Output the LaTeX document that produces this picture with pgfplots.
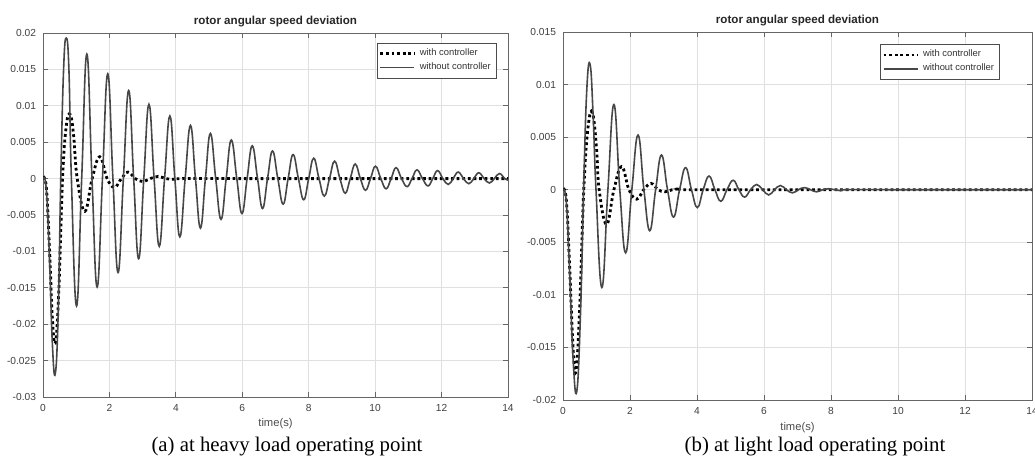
\documentclass[border=0pt]{standalone}
\usepackage{fontspec}
\setmainfont{Liberation Sans}
\newfontfamily\capfont{Liberation Serif}
\usepackage{pgfplots}
\pgfplotsset{compat=1.18}

\pgfplotsset{
  rotor/.style={
    scale only axis,
    anchor=south west,
    xmin=0, xmax=14, xtick={0,2,4,6,8,10,12,14},
    grid=major,
    major grid style={black!12, line width=0.5pt},
    axis line style={black!60, line width=0.5pt},
    tick style={black!60, line width=0.4pt},
    major tick length=2.5pt,
    tick align=inside,
    scaled y ticks=false,
    tick label style={font=\fontsize{5.1}{6}\selectfont, text=black!75},
    /pgf/number format/assume math mode=true,
    yticklabel style={/pgf/number format/fixed, /pgf/number format/precision=3},
    title={rotor angular speed deviation},
    every axis title shift=0pt,
    title style={font=\fontsize{5.8}{7}\selectfont\bfseries, text=black!85,
      at={(0.5,1)}, anchor=center, yshift=5.6pt},
    xlabel={time(s)},
    xlabel style={font=\fontsize{5.6}{7}\selectfont, text=black!70,
      at={(axis description cs:0.5,0)}, anchor=center},
    legend cell align=left,
    legend style={font=\fontsize{4.7}{5.6}\selectfont, draw=black!70, line width=0.4pt,
      inner sep=0.8pt, row sep=-2pt, text=black!80},
    legend image code/.code={\draw[#1] (0pt,0pt) -- (17pt,0pt);},
  },
  withc/.style={black, line width=1.4pt, dash pattern=on 1.4pt off 1.4pt, smooth, tension=0.7},
  withoutc/.style={black!72, line width=0.8pt, smooth, tension=0.75},
}

\begin{document}
\begin{tikzpicture}
\useasboundingbox (0,0) rectangle (517.5pt,228.5pt);

% (a) heavy load
\begin{axis}[rotor, at={(21.5pt,30pt)}, width=232.5pt, height=182pt,
  ymin=-0.03, ymax=0.02,
  ytick={-0.03,-0.025,-0.02,-0.015,-0.01,-0.005,0,0.005,0.01,0.015,0.02},
  xlabel style={yshift=-13.5pt},
  legend style={at={(0.976,0.973)}, anchor=north east}]
\addplot[withc] coordinates {
(0,0) (0.1,-0.0012) (0.2,-0.010) (0.28,-0.019) (0.37,-0.0226) (0.47,-0.016)
(0.59,0) (0.70,0.0072) (0.82,0.0088) (0.92,0.0060) (1.03,0) (1.26,-0.0045)
(1.48,0) (1.71,0.0030) (1.93,0) (2.15,-0.0012) (2.36,0) (2.56,0.0009)
(2.78,0) (3.00,-0.0004) (3.23,0) (3.47,0.0003) (3.70,0) (3.95,-0.0001)
(4.2,0) (6,0) (8,0) (10,0) (12,0) (14,0)
};
\addlegendentry{with controller}
\addplot[withoutc] coordinates {
(0,0) (0.1,-0.0015) (0.2,-0.0115) (0.28,-0.0225) (0.37,-0.0268) (0.46,-0.018)
(0.535,0) (0.62,0.0150) (0.70,0.0193) (0.78,0.0150) (0.855,0) (1.01,-0.0175)
(1.165,0) (1.32,0.0171) (1.475,0) (1.63,-0.0149) (1.79,0) (1.95,0.0144)
(2.105,0) (2.26,-0.0129) (2.42,0) (2.58,0.0121) (2.73,0) (2.88,-0.0110)
(3.035,0) (3.19,0.0102) (3.345,0) (3.50,-0.0093) (3.66,0) (3.82,0.0086)
(3.97,0) (4.12,-0.0080) (4.28,0) (4.44,0.0073) (4.59,0) (4.74,-0.0068)
(4.89,0) (5.04,0.0062) (5.20,0) (5.36,-0.0056) (5.515,0) (5.67,0.0053)
(5.835,0) (5.99,-0.0048) (6.145,0) (6.30,0.0045) (6.46,0) (6.61,-0.0041)
(6.76,0) (6.91,0.0038) (7.07,0) (7.23,-0.0035) (7.38,0) (7.53,0.0033)
(7.69,0) (7.85,-0.0029) (8.00,0) (8.15,0.0028) (8.31,0) (8.47,-0.0024)
(8.625,0) (8.78,0.0024) (8.94,0) (9.10,-0.0020) (9.25,0) (9.40,0.0020)
(9.555,0) (9.71,-0.0016) (9.86,0) (10.01,0.0017) (10.17,0) (10.33,-0.0014)
(10.48,0) (10.63,0.0015) (10.795,0) (10.96,-0.0011) (11.11,0) (11.26,0.0012)
(11.425,0) (11.59,-0.0010) (11.735,0) (11.88,0.0011) (12.04,0) (12.20,-0.0008)
(12.35,0) (12.50,0.0009) (12.66,0) (12.82,-0.0007) (12.97,0) (13.12,0.0008)
(13.28,0) (13.44,-0.0006) (13.59,0) (13.74,0.0007) (13.90,0) (14.0,-0.0002)
};
\addlegendentry{without controller}
\end{axis}

% (b) light load
\begin{axis}[rotor, at={(281.5pt,28.5pt)}, width=234.5pt, height=184pt,
  ymin=-0.02, ymax=0.015,
  ytick={-0.02,-0.015,-0.01,-0.005,0,0.005,0.01,0.015},
  xlabel style={yshift=-14pt},
  legend style={at={(0.932,0.967)}, anchor=north east}]
\addplot[withc] coordinates {
(0,0) (0.1,-0.0010) (0.2,-0.0075) (0.3,-0.0150) (0.39,-0.0172) (0.50,-0.011)
(0.62,0) (0.75,0.0060) (0.88,0.0073) (1.0,0.0040) (1.08,0) (1.30,-0.0033)
(1.52,0) (1.75,0.0022) (1.97,0) (2.20,-0.0009) (2.41,0) (2.63,0.0006)
(2.84,0) (3.04,-0.0002) (3.26,0) (3.48,0.0001) (3.7,0) (6,0) (8,0) (10,0) (12,0) (14,0)
};
\addlegendentry{with controller}
\addplot[withoutc] coordinates {
(0,0) (0.1,-0.0012) (0.2,-0.008) (0.3,-0.0160) (0.41,-0.0192) (0.52,-0.012)
(0.615,0) (0.71,0.0095) (0.81,0.0119) (0.90,0.0070) (0.985,0) (1.16,-0.0093)
(1.34,0) (1.52,0.0081) (1.695,0) (1.87,-0.0060) (2.055,0) (2.24,0.0052)
(2.415,0) (2.59,-0.0039) (2.765,0) (2.94,0.0033) (3.12,0) (3.30,-0.0026)
(3.48,0) (3.66,0.0021) (3.835,0) (4.01,-0.0017) (4.185,0) (4.36,0.0013)
(4.535,0) (4.71,-0.0011) (4.895,0) (5.08,0.0009) (5.25,0) (5.42,-0.0007)
(5.60,0) (5.78,0.0005) (5.96,0) (6.14,-0.0005) (6.315,0) (6.49,0.0004)
(6.67,0) (6.85,-0.0003) (7.03,0) (7.21,0.0002) (7.39,0) (7.57,-0.0002)
(7.75,0) (7.93,0.0001) (8.11,0) (8.29,-0.0001) (8.47,0) (10,0) (12,0) (14,0)
};
\addlegendentry{without controller}
\end{axis}

\node[font=\capfont\fontsize{10.4}{12}\selectfont, anchor=base] at (143.5pt,2.6pt) {(a) at heavy load operating point};
\node[font=\capfont\fontsize{10.4}{12}\selectfont, anchor=base] at (407.5pt,2.6pt) {(b) at light load operating point};
\end{tikzpicture}
\end{document}
